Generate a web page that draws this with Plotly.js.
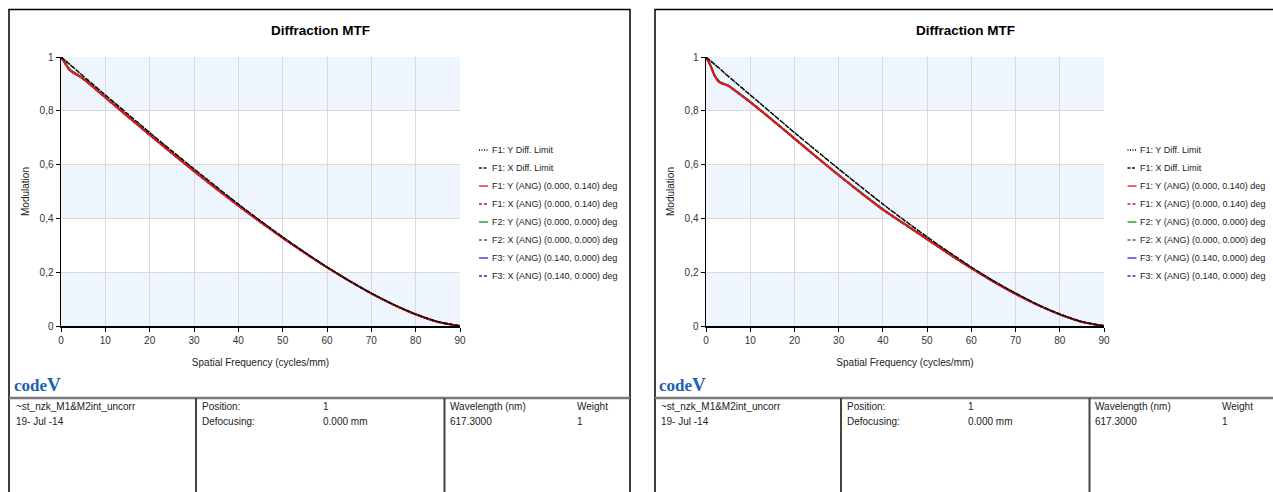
<!DOCTYPE html>
<html><head><meta charset="utf-8">
<script src="https://cdn.plot.ly/plotly-3.0.1.min.js"></script>
<style>html,body{margin:0;padding:0;background:#fff;overflow:hidden}</style>
</head><body><div id="chart" style="width:1273px;height:492px"></div>
<script>
// ---------- data ----------
const freq = [0,1,2,3,4,5,6,8,10,12,15,20,25,30,35,40,45,50,55,60,65,70,75,80,85,90];
const diffLimitY = [1,0.986,0.972,0.958,0.943,0.929,0.915,0.887,0.859,0.831,0.789,0.719,0.651,0.584,0.518,0.453,0.391,0.331,0.274,0.219,0.168,0.122,0.080,0.044,0.016,0];
const diffLimitX = [1,0.986,0.972,0.958,0.943,0.929,0.915,0.887,0.859,0.831,0.789,0.719,0.651,0.584,0.518,0.453,0.391,0.331,0.274,0.219,0.168,0.122,0.080,0.044,0.016,0];
// left chart
const leftF1Y = [1,0.974,0.950,0.939,0.929,0.918,0.905,0.877,0.849,0.821,0.779,0.710,0.642,0.575,0.510,0.447,0.386,0.327,0.271,0.218,0.168,0.121,0.079,0.043,0.015,0];
const leftF1X = [1,0.975,0.951,0.940,0.930,0.919,0.906,0.878,0.850,0.822,0.780,0.711,0.643,0.576,0.511,0.448,0.387,0.328,0.272,0.218,0.168,0.121,0.079,0.043,0.015,0];
const leftF2Y = [1,0.976,0.953,0.942,0.931,0.920,0.907,0.879,0.851,0.823,0.781,0.712,0.644,0.577,0.512,0.449,0.388,0.328,0.272,0.218,0.168,0.121,0.079,0.043,0.015,0];
const leftF2X = [1,0.976,0.953,0.942,0.931,0.920,0.907,0.879,0.851,0.823,0.781,0.712,0.644,0.577,0.512,0.449,0.388,0.328,0.272,0.218,0.168,0.121,0.079,0.043,0.015,0];
const leftF3Y = [1,0.975,0.951,0.940,0.930,0.919,0.906,0.878,0.850,0.822,0.780,0.711,0.643,0.576,0.511,0.448,0.387,0.328,0.272,0.218,0.168,0.121,0.079,0.043,0.015,0];
const leftF3X = [1,0.974,0.950,0.939,0.929,0.918,0.905,0.877,0.849,0.821,0.779,0.710,0.642,0.575,0.510,0.447,0.386,0.327,0.271,0.218,0.168,0.121,0.079,0.043,0.015,0];
// right chart
const rightF1Y = [1,0.968,0.928,0.906,0.899,0.893,0.881,0.857,0.832,0.805,0.765,0.696,0.627,0.560,0.495,0.432,0.377,0.322,0.267,0.215,0.165,0.119,0.078,0.043,0.015,0];
const rightF1X = [1,0.969,0.929,0.907,0.900,0.894,0.882,0.858,0.833,0.806,0.766,0.697,0.628,0.561,0.496,0.433,0.378,0.323,0.268,0.215,0.165,0.119,0.078,0.043,0.015,0];
const rightF2Y = [1,0.970,0.931,0.909,0.901,0.895,0.883,0.859,0.834,0.807,0.767,0.698,0.629,0.562,0.497,0.434,0.379,0.323,0.268,0.216,0.166,0.120,0.078,0.043,0.015,0];
const rightF2X = [1,0.970,0.931,0.909,0.901,0.895,0.883,0.859,0.834,0.807,0.767,0.698,0.629,0.562,0.497,0.434,0.379,0.323,0.268,0.216,0.166,0.120,0.078,0.043,0.015,0];
const rightF3Y = [1,0.969,0.929,0.907,0.900,0.894,0.882,0.858,0.833,0.806,0.766,0.697,0.628,0.561,0.496,0.433,0.378,0.323,0.268,0.215,0.165,0.119,0.078,0.043,0.015,0];
const rightF3X = [1,0.968,0.928,0.906,0.899,0.893,0.881,0.857,0.832,0.805,0.765,0.696,0.627,0.560,0.495,0.432,0.377,0.322,0.267,0.215,0.165,0.119,0.078,0.043,0.015,0];

const seriesNames = ['F1: Y Diff. Limit','F1: X Diff. Limit','F1: Y (ANG) (0.000, 0.140) deg','F1: X (ANG) (0.000, 0.140) deg','F2: Y (ANG) (0.000, 0.000) deg','F2: X (ANG) (0.000, 0.000) deg','F3: Y (ANG) (0.140, 0.000) deg','F3: X (ANG) (0.140, 0.000) deg'];
const xTickVals = [0,10,20,30,40,50,60,70,80,90];
const yTickVals = [0,0.2,0.4,0.6,0.8,1];
const yTickText = ['0','0,2','0,4','0,6','0,8','1'];
const chartTitle = 'Diffraction MTF';
const xTitle = 'Spatial Frequency (cycles/mm)';
const yTitle = 'Modulation';
const infoFile = '~st_nzk_M1&amp;M2int_uncorr';
const infoDate = '19- Jul -14';
const infoPosLabel = 'Position:', infoPosValue = '1';
const infoDefLabel = 'Defocusing:', infoDefValue = '0.000 mm';
const infoWlLabel = 'Wavelength (nm)', infoWlValue = '617.3000';
const infoWtLabel = 'Weight', infoWtValue = '1';

// ---------- styling ----------
const W = 1273, H = 492;
const px = x => x / W;
const py = y => 1 - y / H;
const FONT = 'Liberation Sans, Arial, sans-serif';
const styles = [
  {color:'#000000', dash:'1px,1.5px', width:1.4},
  {color:'#111111', dash:'5px,1.5px', width:1.4},
  {color:'#e8141b', dash:'solid', width:1.8},
  {color:'#e8141b', dash:'4px,2px', width:1.8},
  {color:'#1a8a1a', dash:'solid', width:1.8},
  {color:'#1a8a1a', dash:'4px,2px', width:1.8},
  {color:'#2a2ae0', dash:'solid', width:1.8},
  {color:'#2a2ae0', dash:'4px,2px', width:1.8}
];
const legendDash = ['1px,1.5px','3px,1.5px','solid','3px,2px','solid','3px,2px','solid','3px,2px'];
const panels = [
  {xa:'x', ya:'y', x0:61, x1:460, off:0, legX:479, legT:490, titleX:320,
   data:[diffLimitY,diffLimitX,leftF1Y,leftF1X,leftF2Y,leftF2X,leftF3Y,leftF3X],
   border:[9,630], cols:[196,444.5], logoX:12},
  {xa:'x2', ya:'y2', x0:706, x1:1104, off:645, legX:1127.5, legT:1138, titleX:965,
   data:[diffLimitY,diffLimitX,rightF1Y,rightF1X,rightF2Y,rightF2X,rightF3Y,rightF3X],
   border:[655,1290], cols:[841,1089.5], logoX:657}
];
const drawOrder = [7,6,5,4,3,2,1,0];

const traces = [];
const shapes = [];
const annotations = [];
const layout = {
  width: W, height: H, margin:{l:0,r:0,t:0,b:0},
  paper_bgcolor:'#ffffff', plot_bgcolor:'#ffffff', showlegend:false,
  font:{family:FONT, size:10, color:'#222'}
};

panels.forEach((p, k) => {
  drawOrder.forEach(i => {
    traces.push({x:freq, y:p.data[i], xaxis:p.xa, yaxis:p.ya, type:'scatter', mode:'lines',
      name:seriesNames[i], line:{color:styles[i].color, dash:styles[i].dash, width:styles[i].width, shape:'spline', smoothing:0.6},
      hoverinfo:'skip'});
  });
  const axX = k === 0 ? 'xaxis' : 'xaxis2';
  const axY = k === 0 ? 'yaxis' : 'yaxis2';
  layout[axX] = {domain:[px(p.x0), px(p.x1)], range:[0,90], anchor:p.ya, tickvals:xTickVals,
    showgrid:true, gridcolor:'#d9d9d9', gridwidth:1, zeroline:false,
    showline:true, linecolor:'#000', linewidth:1.5, ticks:'outside', ticklen:4, tickcolor:'#000',
    tickfont:{size:10, color:'#333', family:FONT}, fixedrange:true,
    title:{text:xTitle, font:{size:10, color:'#222', family:FONT}, standoff:14}};
  layout[axY] = {domain:[py(326), py(57)], range:[0,1], anchor:p.xa, tickvals:yTickVals, ticktext:yTickText,
    showgrid:true, gridcolor:'#d9d9d9', gridwidth:1, zeroline:false,
    showline:true, linecolor:'#000', linewidth:1.5, ticks:'outside', ticklen:4, tickcolor:'#000',
    tickfont:{size:10, color:'#333', family:FONT}, fixedrange:true,
    title:{text:yTitle, font:{size:10, color:'#222', family:FONT}, standoff:8}};
  // alternating bands
  [[0.8,1],[0.4,0.6],[0,0.2]].forEach(b => {
    shapes.push({type:'rect', xref:p.xa, yref:p.ya, x0:0, x1:90, y0:b[0], y1:b[1],
      fillcolor:'#eef5fd', line:{width:0}, layer:'below'});
  });
  // panel border
  shapes.push({type:'rect', xref:'paper', yref:'paper', x0:px(p.border[0]), x1:px(p.border[1]), y0:py(500), y1:py(9.5),
    line:{color:'#000', width:1.5}, fillcolor:'rgba(0,0,0,0)'});
  // table
  shapes.push({type:'line', xref:'paper', yref:'paper', x0:px(p.border[0]), x1:px(p.border[1]), y0:py(398), y1:py(398),
    line:{color:'#7a7a7a', width:2.5}});
  p.cols.forEach(c => shapes.push({type:'line', xref:'paper', yref:'paper', x0:px(c), x1:px(c), y0:py(398), y1:py(500),
    line:{color:'#444', width:2}}));
  // title
  annotations.push({xref:'paper', yref:'paper', x:px(p.titleX), y:py(30), text:'<b>'+chartTitle+'</b>', showarrow:false,
    xanchor:'center', yanchor:'middle', font:{size:13.5, color:'#000', family:FONT}});
  // legend (manual, compact samples)
  seriesNames.forEach((n, i) => {
    const yy = 150 + 18 * i;
    shapes.push({type:'line', xref:'paper', yref:'paper', x0:px(p.legX), x1:px(p.legX+9), y0:py(yy), y1:py(yy),
      line:{color:styles[i].color, dash:legendDash[i], width:1.3}});
    annotations.push({xref:'paper', yref:'paper', x:px(p.legT), y:py(yy), text:n, showarrow:false,
      xanchor:'left', yanchor:'middle', font:{size:9, color:'#222', family:FONT}});
  });
  // logo
  annotations.push({xref:'paper', yref:'paper', x:px(p.logoX), y:py(384), text:'<b>code</b><b style="font-size:19px">V</b>', showarrow:false,
    xanchor:'left', yanchor:'middle', font:{size:17, color:'#1b62ad', family:'Liberation Serif, serif'}});
  // table text
  const o = p.off;
  const cells = [
    [14, infoFile, 406.5], [14, infoDate, 421.7],
    [199.5, infoPosLabel, 406.5], [199.5, infoDefLabel, 421.7],
    [321, infoPosValue, 406.5], [321, infoDefValue, 421.7],
    [448, infoWlLabel, 406.5], [448, infoWlValue, 421.7],
    [574.5, infoWtLabel, 406.5], [574.5, infoWtValue, 421.7]
  ];
  cells.forEach(c => annotations.push({xref:'paper', yref:'paper', x:px(c[0]+o), y:py(c[2]), text:c[1], showarrow:false,
    xanchor:'left', yanchor:'middle', font:{size:10, color:'#222', family:FONT}}));
});
layout.shapes = shapes;
layout.annotations = annotations;
Plotly.newPlot('chart', traces, layout, {displayModeBar:false, staticPlot:true});
</script></body></html>
